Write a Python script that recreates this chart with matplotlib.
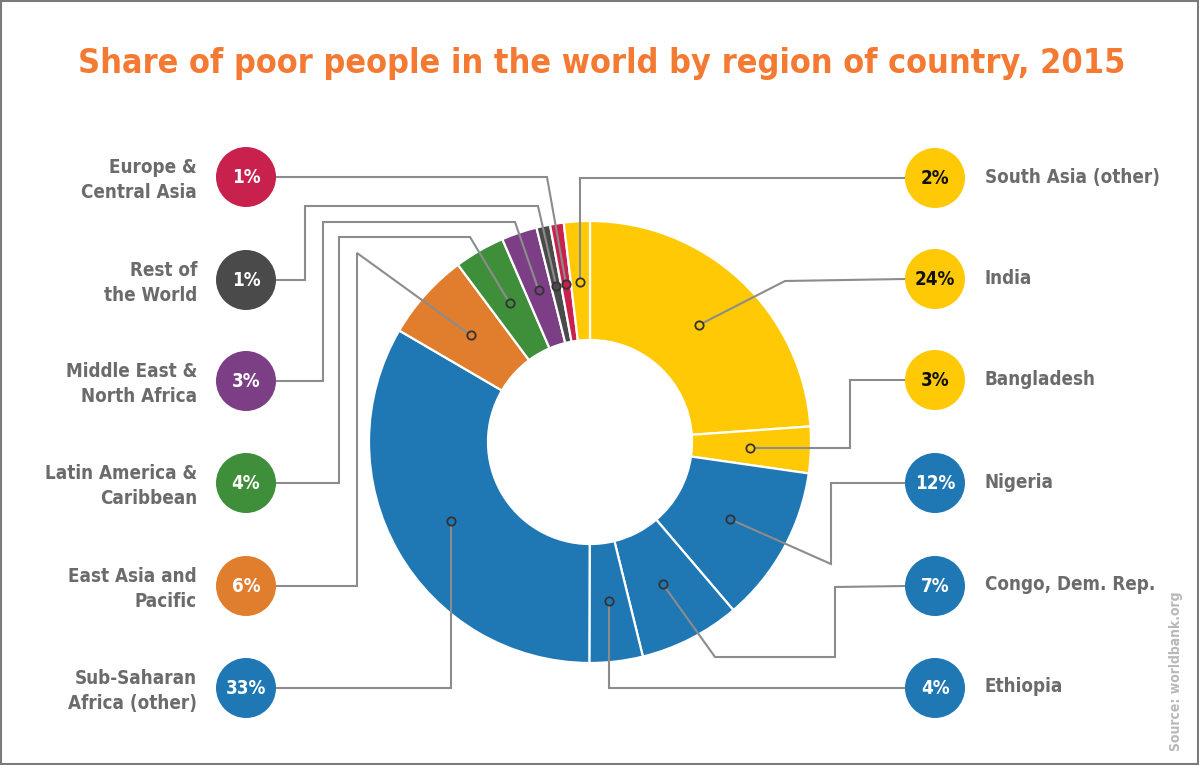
import matplotlib.pyplot as plt
import matplotlib.font_manager as fm
from matplotlib.patches import Circle, Rectangle
import numpy as np

# data, clockwise from 12 o'clock
regions = ['India', 'Bangladesh', 'Nigeria', 'Congo, Dem. Rep.', 'Ethiopia',
           'Sub-Saharan\nAfrica (other)', 'East Asia and\nPacific',
           'Latin America &\nCaribbean', 'Middle East &\nNorth Africa',
           'Rest of\nthe World', 'Europe &\nCentral Asia', 'South Asia (other)']
shares = [23.9, 3.4, 11.5, 7.4, 3.9, 33.4, 6.4, 3.7, 2.6, 1.0, 1.0, 1.9]
pct_labels = ['24%', '3%', '12%', '7%', '4%', '33%', '6%', '4%', '3%', '1%', '1%', '2%']

YEL, BLU, ORA, GRN, PUR, GRY, RED = '#FFC905', '#1F77B4', '#E07E2E', '#3E8E3A', '#7C3F86', '#4A4A4A', '#C8214E'
colors = [YEL, YEL, BLU, BLU, BLU, BLU, ORA, GRN, PUR, GRY, RED, YEL]

W, H = 1199, 765

names = {f.name for f in fm.fontManager.ttflist}
if 'Liberation Sans Narrow' in names:
    FONT = dict(family='Liberation Sans Narrow')
else:
    FONT = dict(family='DejaVu Sans', stretch='condensed')

fig = plt.figure(figsize=(W / 100, H / 100), dpi=100)
ax = fig.add_axes([0, 0, 1, 1])

def Y(y):
    return H - y

# donut
cx, cy = 590, Y(442)
R, ring = 221, 119
ax.pie(shares, colors=colors, startangle=90, counterclock=False, radius=R,
       center=(cx, cy), frame=True,
       wedgeprops=dict(width=ring, edgecolor='white', linewidth=1.6))

# dot positions at the middle of each slice
tot = sum(shares)
cum = np.cumsum([0] + shares[:-1])
mid = np.radians(90 - 360 * (cum + np.array(shares) / 2) / tot)
dot_r = 160
dots = [(cx + dot_r * np.cos(a), cy + dot_r * np.sin(a)) for a in mid]

# label circle positions (layout): index -> circle y
circ_y = {11: 178, 0: 279, 1: 380, 2: 483, 3: 586, 4: 688,
          10: 177, 9: 280, 8: 381, 7: 483, 6: 586, 5: 688}
left_x, right_x, cr = 246, 935, 30

# connector elbows in pixel coords (before reaching the dot)
elbows = {
    10: [(547, 177)],
    9: [(305, 280), (305, 206), (538, 206)],
    8: [(323, 381), (323, 222), (515, 222)],
    7: [(339, 483), (339, 237), (470, 237)],
    6: [(357, 586), (357, 253)],
    5: ['vx'],
    11: ['vx'],
    0: [(785, 281)],
    1: [(850, 380), 'hy850'],
    2: [(831, 483), (831, 564)],
    3: [(835, 587), (835, 657), (715, 657)],
    4: ['vx'],
}

for i in range(len(shares)):
    left = 5 <= i <= 10
    x0 = left_x + cr if left else right_x - cr
    y0 = circ_y[i]
    dx, dy = dots[i]
    pts = [(x0, Y(y0))]
    for e in elbows[i]:
        if e == 'vx':
            pts.append((dx, Y(y0)))
        elif e == 'hy850':
            pts.append((850, dy))
        else:
            pts.append((e[0], Y(e[1])))
    pts.append((dx, dy))
    xs, ys = zip(*pts)
    ax.plot(xs, ys, color='#8C8C8C', lw=1.5, zorder=3, solid_joinstyle='miter')
    ax.plot(dx, dy, 'o', ms=6, mfc=colors[i], mec='#333333', mew=1.3, zorder=4)

    # label circle
    ccx = left_x if left else right_x
    ax.add_patch(Circle((ccx, Y(y0)), cr, color=colors[i], zorder=5, lw=0))
    tcol = '#111111' if colors[i] == YEL else 'white'
    ax.text(ccx, Y(y0), pct_labels[i], ha='center', va='center', color=tcol,
            fontsize=13.5, fontweight='bold', zorder=6, **FONT)
    if left:
        ax.text(197, Y(y0 + 3), regions[i], ha='right', va='center', color='#6B6B6B',
                fontsize=13.5, fontweight='bold', linespacing=1.4, **FONT)
    else:
        ax.text(985, Y(y0 - 1), regions[i], ha='left', va='center', color='#6B6B6B',
                fontsize=13.5, fontweight='bold', **FONT)

ax.text(602, Y(63), 'Share of poor people in the world by region of country, 2015',
        ha='center', va='center', color='#F47A33', fontsize=24.5, fontweight='bold', **FONT)
ax.text(1176, Y(671), 'Source: worldbank.org', rotation=90, ha='center', va='center',
        color='#B8B8B8', fontsize=10, fontweight='bold', **FONT)

ax.add_patch(Rectangle((1, 1), W - 2, H - 2, fill=False, ec='#7A7A7A', lw=1.5, zorder=10))

ax.set_xlim(0, W)
ax.set_ylim(0, H)
ax.set_aspect('equal')
ax.axis('off')
fig.savefig('out.png', dpi=100)
